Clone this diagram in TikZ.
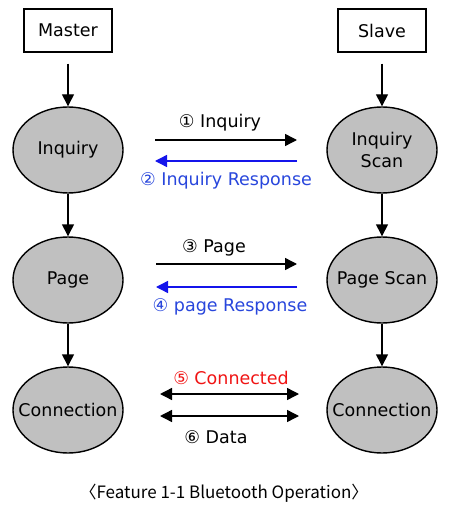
\documentclass[tikz,border=0pt]{standalone}
\usepackage{fontspec}
\setmainfont{DejaVu Sans}
\newfontfamily\capfont{Noto Sans CJK KR}
\usetikzlibrary{shapes.geometric,arrows.meta}
\definecolor{ellfill}{RGB}{192,192,192}
\definecolor{bluearr}{RGB}{20,20,235}
\definecolor{bluetxt}{RGB}{40,70,220}
\definecolor{redtxt}{RGB}{240,20,20}
\tikzset{
  every node/.style={font=\fontsize{17.5}{20}\selectfont},
  headbox/.style={draw=black, line width=1.3pt, fill=white, minimum width=88pt, minimum height=43pt, inner sep=0pt},
  state/.style={ellipse, draw=black, line width=1.4pt, fill=ellfill, minimum width=110pt, minimum height=86pt, inner sep=0pt,
    label={[align=center, inner sep=0pt, font=\fontsize{17.5}{22}\selectfont]center:#1}},
  flow/.style={line width=1.4pt, -{Triangle[length=12pt,width=12pt]}},
  both/.style={line width=1.4pt, {Triangle[length=12pt,width=12pt]}-{Triangle[length=12pt,width=12pt]}},
  lbl/.style={inner sep=0pt},
}
\begin{document}
\begin{tikzpicture}[x=1pt,y=-1pt]
\useasboundingbox (0,0) rectangle (461,521);
% heads
\node[headbox] (master) at (68,30.5) {Master};
\node[headbox] (slave) at (382,30.5) {Slave};
% states
\node[state={Inquiry}] (inq) at (68,150) {};
\node[state={Inquiry\\Scan}] (inqs) at (382,150) {};
\node[state={Page}] (page) at (68,280) {};
\node[state={Page Scan}] (pages) at (382,280) {};
\node[state={Connection}] (conm) at (68,410) {};
\node[state={Connection}] (cons) at (382,410) {};
% vertical
\draw[flow, shorten <=11pt] (master) -- (inq);
\draw[flow, shorten <=11pt] (slave) -- (inqs);
\draw[flow] (inq) -- (page);
\draw[flow] (inqs) -- (pages);
\draw[flow] (page) -- (conm);
\draw[flow] (pages) -- (cons);
% horizontal coordinates
\coordinate (a1s) at (155,140); \coordinate (a1e) at (297,140);
\coordinate (a2s) at (297,161); \coordinate (a2e) at (155,161);
\coordinate (a3s) at (156,264); \coordinate (a3e) at (297,264);
\coordinate (a4s) at (297,287); \coordinate (a4e) at (156,287);
\coordinate (a5s) at (160,394); \coordinate (a5e) at (299,394);
\coordinate (a6s) at (160,416); \coordinate (a6e) at (299,416);
\draw[flow] (a1s) -- (a1e);
\draw[flow, draw=bluearr, fill=bluearr] (a2s) -- (a2e);
\draw[flow] (a3s) -- (a3e);
\draw[flow, draw=bluearr, fill=bluearr] (a4s) -- (a4e);
\draw[both] (a5s) -- (a5e);
\draw[both] (a6s) -- (a6e);
% labels
\node[lbl] (l1) at (220,123) {① Inquiry};
\node[lbl, text=bluetxt] (l2) at (226,181) {② Inquiry Response};
\node[lbl] (l3) at (214,248) {③ Page};
\node[lbl, text=bluetxt] (l4) at (230,307) {④ page Response};
\node[lbl, text=redtxt] (l5) at (231,378) {⑤ Connected};
\node[lbl] (l6) at (216,437) {⑥ Data};
\node[lbl, font=\capfont\fontsize{17}{19}\selectfont] (cap) at (224,493) {〈Feature 1-1 Bluetooth Operation〉};
\end{tikzpicture}
\end{document}
